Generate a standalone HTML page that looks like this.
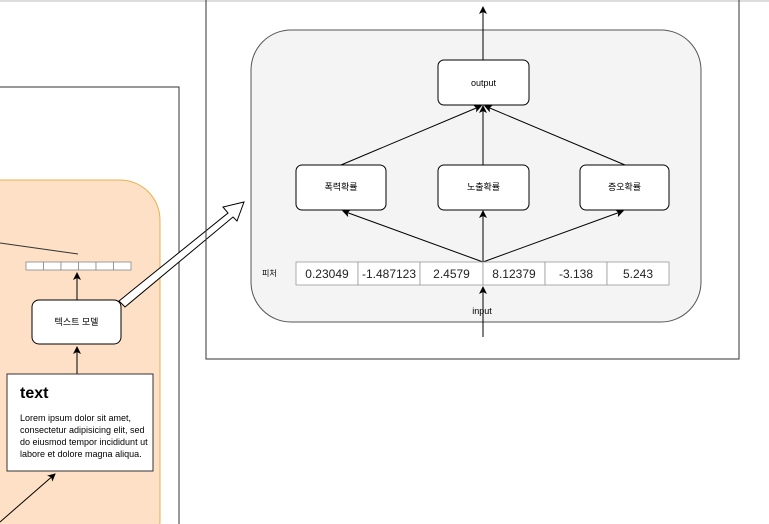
<!DOCTYPE html>
<html><head><meta charset="utf-8"><style>
html,body{margin:0;padding:0;background:#fff;width:769px;height:524px;overflow:hidden}
svg{display:block;overflow:hidden}
text{font-family:"Liberation Sans","Noto Sans CJK KR",sans-serif}
</style></head><body>
<svg width="769" height="524" viewBox="0 0 769 524" xmlns="http://www.w3.org/2000/svg">
<defs>
<marker id="a" markerWidth="8" markerHeight="8" refX="7" refY="4" orient="auto" markerUnits="userSpaceOnUse">
<path d="M0,0 L8,4 L0,8 L2,4 z" fill="#000"/></marker>
</defs>
<rect x="0" y="0" width="769" height="2" fill="#ddd"/>
<path d="M0,87 H179 V524" fill="none" stroke="#333" stroke-width="1"/>
<rect x="-60" y="180" width="220" height="380" rx="40" fill="#fde0c5" stroke="#e8b04e" stroke-width="1"/>
<line x1="0" y1="243" x2="78" y2="254" stroke="#333"/>
<g fill="#fff" stroke="#888" stroke-width="0.8">
<rect x="26" y="262" width="17.5" height="8"/><rect x="43.5" y="262" width="17.5" height="8"/><rect x="61" y="262" width="17.5" height="8"/><rect x="78.5" y="262" width="17.5" height="8"/><rect x="96" y="262" width="17.5" height="8"/><rect x="113.5" y="262" width="17.5" height="8"/>
</g>
<line x1="77" y1="300" x2="77" y2="273" stroke="#000" marker-end="url(#a)"/>
<rect x="32" y="300" width="89" height="44" rx="7" fill="#fff" stroke="#000"/>
<text x="76.5" y="325" font-size="9" text-anchor="middle">텍스트 모델</text>
<line x1="77" y1="374" x2="77" y2="347" stroke="#000" marker-end="url(#a)"/>
<rect x="7" y="374" width="146" height="97" fill="#fff" stroke="#333"/>
<text x="20" y="398" font-size="16" font-weight="bold">text</text>
<g font-size="9"><text x="20" y="421">Lorem ipsum dolor sit amet,</text><text x="20" y="433">consectetur adipisicing elit, sed</text><text x="20" y="445">do eiusmod tempor incididunt ut</text><text x="20" y="457">labore et dolore magna aliqua.</text></g>
<line x1="0" y1="522" x2="55" y2="474" stroke="#000" marker-end="url(#a)"/>
<path d="M119,301 L228,213 L223,207 L244,202 L237,221 L233,217 L125,307 Z" fill="#fff" stroke="#000" stroke-width="1"/>
<path d="M206,0 V359 H739 V0" fill="none" stroke="#333"/>
<rect x="251" y="30" width="450" height="292" rx="40" fill="#f4f4f4" stroke="#555"/>
<line x1="483" y1="60" x2="483" y2="7" stroke="#000" marker-end="url(#a)"/>
<rect x="438" y="60" width="91" height="45" rx="6" fill="#fff" stroke="#000"/>
<text x="483.5" y="86" font-size="9" text-anchor="middle">output</text>
<g stroke="#000" marker-end="url(#a)">
<line x1="341" y1="165" x2="481" y2="106"/>
<line x1="483" y1="165" x2="483" y2="106"/>
<line x1="625" y1="165" x2="485" y2="106"/>
<line x1="483" y1="262" x2="343" y2="211"/>
<line x1="483" y1="262" x2="483" y2="211"/>
<line x1="483" y1="262" x2="623" y2="211"/>
</g>
<g fill="#fff" stroke="#000">
<rect x="296" y="165" width="90" height="45" rx="6"/>
<rect x="438" y="165" width="91" height="45" rx="6"/>
<rect x="580" y="165" width="89" height="45" rx="6"/>
</g>
<g font-size="9" text-anchor="middle">
<text x="341" y="190">폭력확률</text><text x="483.5" y="190">노출확률</text><text x="624.5" y="190">증오확률</text>
</g>
<g fill="#fff" stroke="#999" stroke-width="0.8">
<rect x="296" y="262" width="62" height="23"/><rect x="358" y="262" width="62" height="23"/><rect x="420" y="262" width="63" height="23"/><rect x="483" y="262" width="62" height="23"/><rect x="545" y="262" width="62" height="23"/><rect x="607" y="262" width="62" height="23"/>
</g>
<line x1="483" y1="337" x2="483" y2="287" stroke="#000" marker-end="url(#a)"/>
<g font-size="12" text-anchor="middle" fill="#222">
<text x="327" y="278">0.23049</text><text x="389" y="278">-1.487123</text><text x="451.5" y="278">2.4579</text><text x="514" y="278">8.12379</text><text x="576" y="278">-3.138</text><text x="638" y="278">5.243</text>
</g>
<text x="262" y="276" font-size="8">피처</text>
<text x="482" y="314" font-size="9" text-anchor="middle">input</text>
</svg>
</body></html>
